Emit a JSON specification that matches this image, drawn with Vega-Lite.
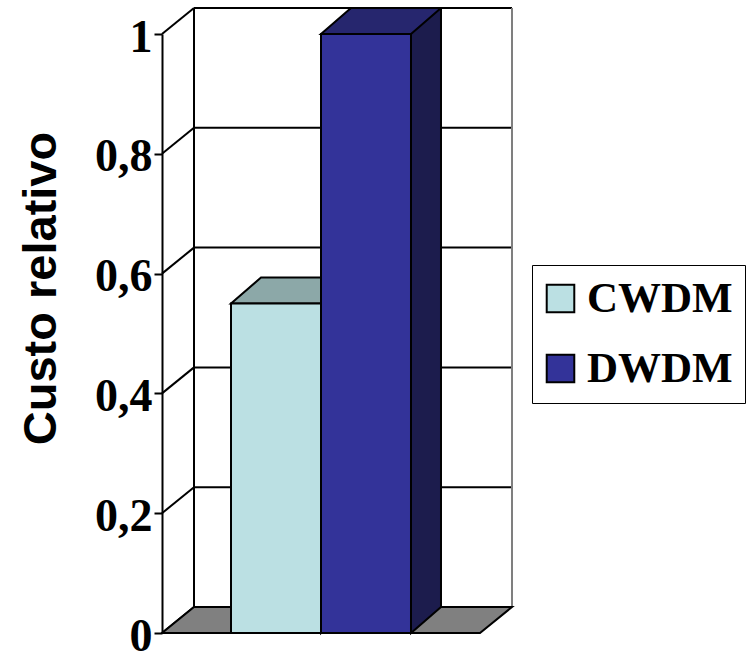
{
  "$schema": "https://vega.github.io/schema/vega-lite/v6.json",
  "autosize": {"type": "none"},
  "padding": {"left": 162, "top": 34, "right": 268, "bottom": 24},
  "width": 318,
  "height": 599,
  "background": "white",
  "config": {"view": {"stroke": null}},
  "datasets": {
    "custos": [
      {"serie": "CWDM", "valor": 0.55},
      {"serie": "DWDM", "valor": 1}
    ],
    "grade": [
      {"v": 0}, {"v": 0.2}, {"v": 0.4}, {"v": 0.6}, {"v": 0.8}, {"v": 1}
    ]
  },
  "layer": [
    {
      "data": {"name": "grade"},
      "mark": {"type": "rule", "stroke": "black", "strokeWidth": 2, "xOffset": -82, "x2Offset": 146, "yOffset": -26},
      "encoding": {
        "x": {"datum": "CWDM", "type": "nominal", "axis": null},
        "x2": {"datum": "DWDM"},
        "y": {"field": "v", "type": "quantitative"}
      }
    },
    {
      "data": {"name": "grade"},
      "mark": {"type": "rule", "stroke": "black", "strokeWidth": 2, "xOffset": -82, "yOffset": -26, "y2Offset": -26},
      "encoding": {
        "x": {"datum": "CWDM", "type": "nominal", "axis": null},
        "y": {"aggregate": "min", "field": "v", "type": "quantitative"},
        "y2": {"aggregate": "max", "field": "v"}
      }
    },
    {
      "data": {"name": "grade"},
      "mark": {"type": "rule", "stroke": "#7F7F7F", "strokeWidth": 2, "xOffset": 146, "yOffset": -26, "y2Offset": -26},
      "encoding": {
        "x": {"datum": "DWDM", "type": "nominal", "axis": null},
        "y": {"aggregate": "min", "field": "v", "type": "quantitative"},
        "y2": {"aggregate": "max", "field": "v"}
      }
    },
    {
      "data": {"name": "grade"},
      "mark": {"type": "point", "shape": "M-114,0 L-82,-26", "size": 4, "filled": false, "stroke": "black", "strokeWidth": 2, "opacity": 1},
      "encoding": {
        "x": {"datum": "CWDM", "type": "nominal", "axis": null},
        "y": {"field": "v", "type": "quantitative"}
      }
    },
    {
      "data": {"name": "grade"},
      "transform": [{"filter": "datum.v == 0"}],
      "mark": {"type": "point", "shape": "M-114,0 L204,0 L236,-26 L-82,-26 Z", "size": 4, "filled": true, "fill": "#808080", "stroke": "black", "strokeWidth": 2, "opacity": 1},
      "encoding": {
        "x": {"datum": "CWDM", "type": "nominal", "axis": null},
        "y": {"field": "v", "type": "quantitative"}
      }
    },
    {
      "data": {"name": "custos"},
      "mark": {"type": "bar", "width": 30, "xOffset": 60, "yOffset": -26, "y2Offset": -26, "strokeWidth": 0},
      "encoding": {
        "x": {"field": "serie", "type": "nominal", "axis": null},
        "y": {"field": "valor", "type": "quantitative"},
        "y2": {"datum": 0},
        "fill": {"condition": {"test": "datum.serie === 'CWDM'", "value": "#7E9FA1"}, "value": "#1C1C4D"}
      }
    },
    {
      "data": {"name": "custos"},
      "mark": {"type": "point", "shape": "M75,-26 L45,0 L45,-26", "size": 4, "filled": true, "stroke": "black", "strokeWidth": 2, "opacity": 1},
      "encoding": {
        "x": {"field": "serie", "type": "nominal", "axis": null},
        "y": {"datum": 0, "type": "quantitative"},
        "fill": {"condition": {"test": "datum.serie === 'CWDM'", "value": "#7E9FA1"}, "value": "#1C1C4D"}
      }
    },
    {
      "data": {"name": "custos"},
      "mark": {"type": "rule", "stroke": "black", "strokeWidth": 2, "xOffset": 75, "yOffset": -26, "y2Offset": -26},
      "encoding": {
        "x": {"field": "serie", "type": "nominal", "axis": null},
        "y": {"field": "valor", "type": "quantitative"},
        "y2": {"datum": 0}
      }
    },
    {
      "data": {"name": "custos"},
      "mark": {"type": "point", "shape": "M-45,0 L45,0 L75,-26 L-15,-26 Z", "size": 4, "filled": true, "stroke": "black", "strokeWidth": 2, "opacity": 1},
      "encoding": {
        "x": {"field": "serie", "type": "nominal", "axis": null},
        "y": {"field": "valor", "type": "quantitative"},
        "fill": {"condition": {"test": "datum.serie === 'CWDM'", "value": "#8CA8A8"}, "value": "#26266E"}
      }
    },
    {
      "data": {"name": "custos"},
      "mark": {"type": "bar", "stroke": "black", "strokeWidth": 2, "opacity": 1},
      "encoding": {
        "x": {
          "field": "serie", "type": "nominal", "axis": null,
          "scale": {"domain": ["CWDM", "DWDM"], "paddingInner": 0, "paddingOuter": 0.7667}
        },
        "y": {
          "field": "valor", "type": "quantitative",
          "scale": {"domain": [0, 1], "nice": false, "zero": true},
          "axis": {
            "values": [0, 0.2, 0.4, 0.6, 0.8, 1],
            "labelExpr": "replace(format(datum.value, '.1~f'), '.', ',')",
            "grid": false,
            "domainColor": "black", "domainWidth": 2,
            "tickColor": "black", "tickWidth": 2, "tickSize": 8,
            "labelPadding": 2, "labelFlush": false, "labelOverlap": false,
            "labelFont": "Liberation Serif", "labelFontWeight": "bold", "labelFontSize": 46, "labelColor": "black", "labelOffset": 3,
            "title": "Custo relativo",
            "titleFont": "Liberation Sans", "titleFontWeight": "bold", "titleFontSize": 47, "titleColor": "black",
            "titleX": -97, "titleY": 254
          }
        },
        "color": {
          "field": "serie", "type": "nominal",
          "scale": {"domain": ["CWDM", "DWDM"], "range": ["#BBE0E3", "#333399"]},
          "legend": {
            "title": null, "orient": "none", "legendX": 370, "legendY": 231,
            "padding": 12, "strokeColor": "black", "fillColor": "white",
            "symbolType": "square", "symbolSize": 760, "symbolStrokeColor": "black", "symbolStrokeWidth": 2, "symbolOpacity": 1,
            "symbolOffset": -5,
            "labelFont": "Liberation Serif", "labelFontWeight": "bold", "labelFontSize": 43, "labelColor": "black",
            "labelOffset": 5, "rowPadding": 26, "labelLimit": 300
          }
        }
      }
    }
  ]
}
